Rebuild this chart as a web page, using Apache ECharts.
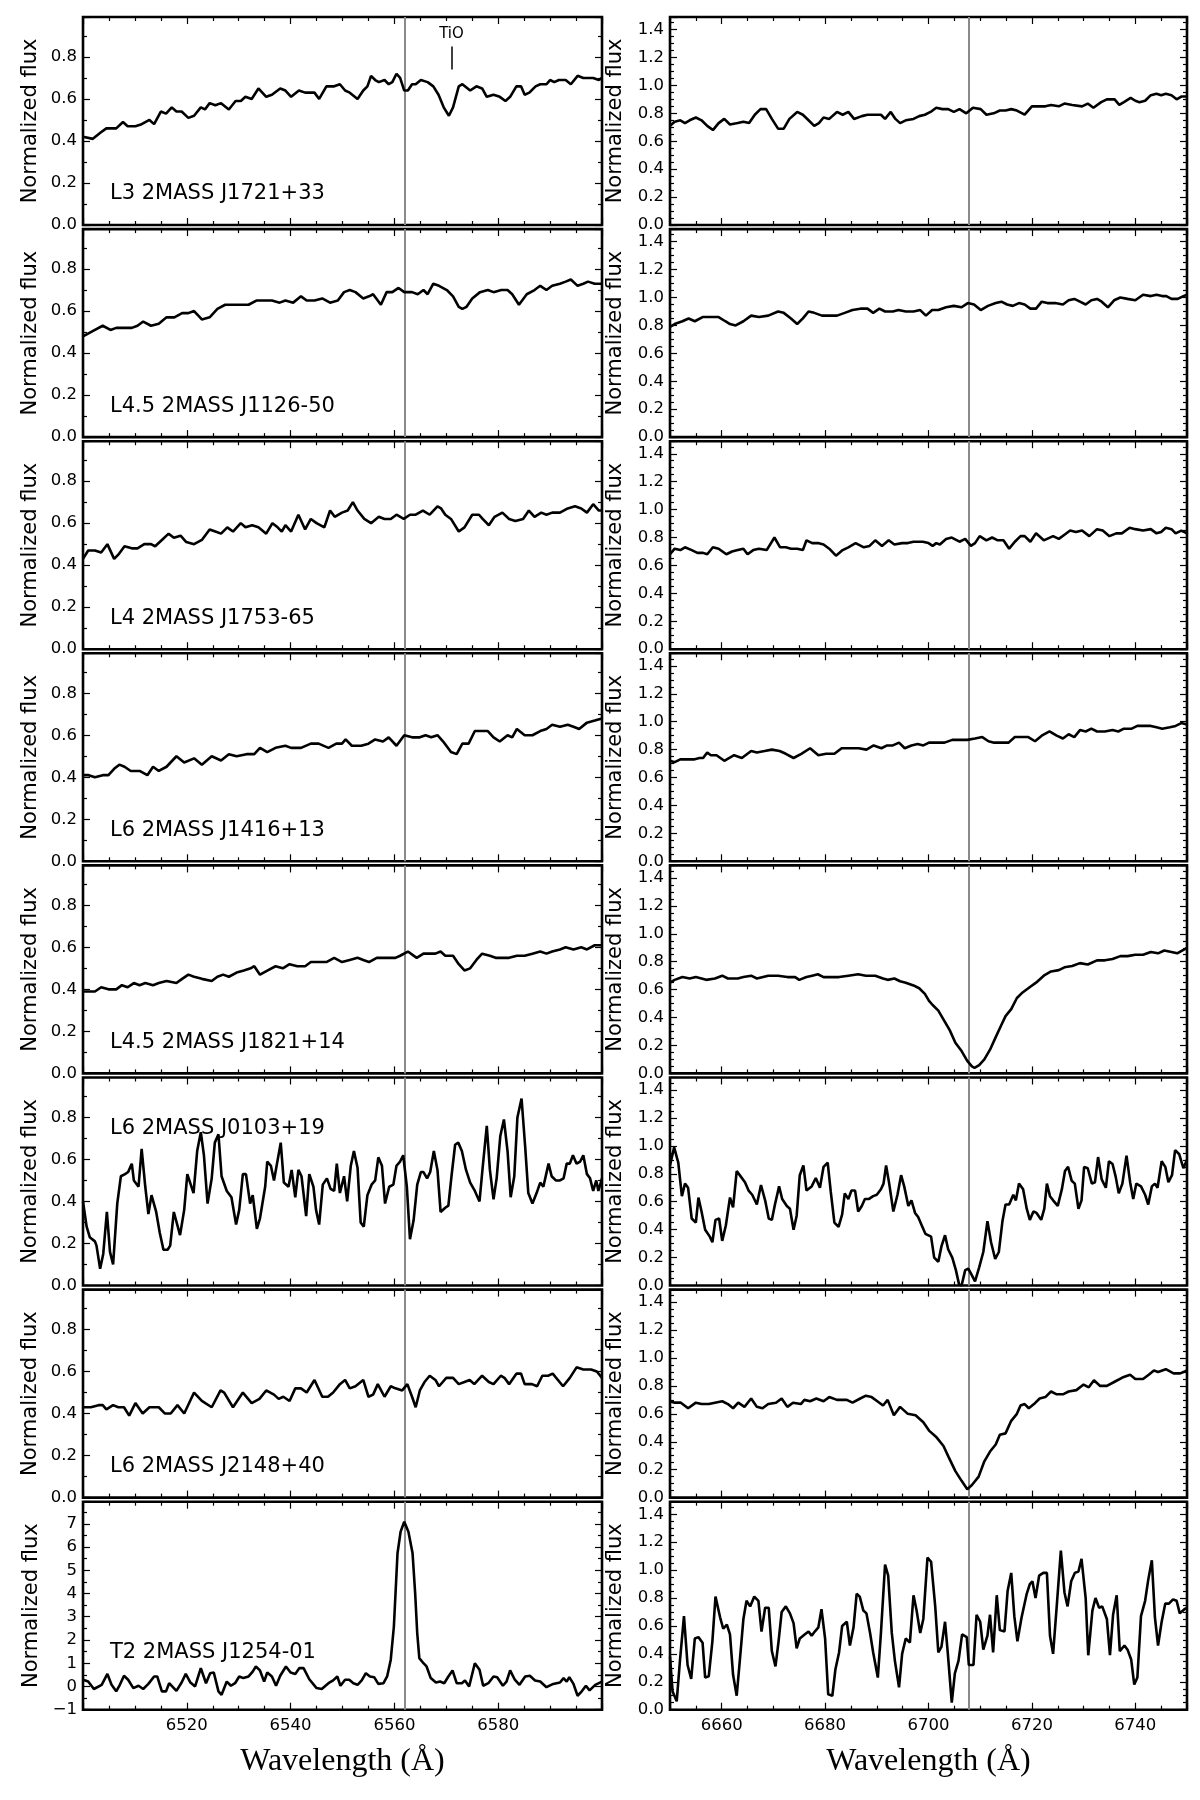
<!DOCTYPE html>
<html>
<head>
<meta charset="utf-8">
<title>Normalized spectra</title>
<script src="https://cdn.jsdelivr.net/npm/echarts@6/dist/echarts.min.js"></script>
<style>
html, body { margin: 0; padding: 0; background: #fff; }
#spectraChart { width: 1200px; height: 1800px; }
</style>
</head>
<body>
<div id="spectraChart"></div>
<script>
// [wavelength (A), normalized flux]
var specL1 = [[6500.0,0.42],[6501.9,0.41],[6503.4,0.44],[6504.5,0.46],[6506.4,0.46],[6507.7,0.49],[6508.6,0.47],[6510.1,0.47],[6511.3,0.48],[6512.8,0.50],[6513.7,0.48],[6515.0,0.54],[6516.0,0.53],[6517.1,0.56],[6518.0,0.54],[6519.0,0.54],[6520.3,0.51],[6521.4,0.52],[6522.7,0.56],[6523.5,0.55],[6524.4,0.58],[6525.5,0.57],[6526.6,0.58],[6528.1,0.55],[6529.4,0.59],[6530.4,0.59],[6531.3,0.61],[6532.5,0.60],[6533.8,0.65],[6535.3,0.61],[6536.4,0.62],[6538.0,0.65],[6539.0,0.64],[6540.1,0.61],[6541.6,0.64],[6542.8,0.63],[6544.6,0.63],[6545.5,0.60],[6546.9,0.66],[6548.4,0.66],[6549.5,0.67],[6550.5,0.64],[6551.4,0.63],[6552.9,0.60],[6554.0,0.64],[6554.8,0.66],[6555.5,0.71],[6556.3,0.69],[6557.0,0.68],[6558.1,0.69],[6558.9,0.67],[6559.6,0.68],[6560.4,0.72],[6561.1,0.70],[6561.9,0.64],[6562.6,0.64],[6563.4,0.67],[6564.1,0.67],[6565.1,0.69],[6566.4,0.68],[6567.5,0.66],[6568.5,0.62],[6569.5,0.56],[6570.5,0.52],[6571.3,0.56],[6572.4,0.66],[6573.1,0.67],[6574.6,0.64],[6575.8,0.66],[6576.9,0.65],[6577.8,0.61],[6579.1,0.62],[6580.3,0.61],[6581.4,0.59],[6582.3,0.61],[6583.5,0.66],[6584.4,0.66],[6585.1,0.62],[6586.0,0.63],[6587.2,0.66],[6588.1,0.67],[6589.3,0.67],[6590.0,0.69],[6590.8,0.68],[6591.7,0.69],[6593.0,0.69],[6594.0,0.67],[6595.3,0.71],[6596.4,0.70],[6597.5,0.70],[6598.3,0.70],[6599.4,0.69],[6600.0,0.70]];
var specL2 = [[6500.0,0.48],[6500.8,0.49],[6502.3,0.51],[6503.8,0.53],[6505.3,0.51],[6506.4,0.52],[6507.9,0.52],[6509.4,0.52],[6510.5,0.53],[6511.6,0.55],[6513.1,0.53],[6514.6,0.54],[6516.1,0.57],[6517.6,0.57],[6519.1,0.59],[6520.3,0.59],[6521.4,0.60],[6522.9,0.56],[6524.4,0.57],[6525.9,0.61],[6527.4,0.63],[6528.9,0.63],[6530.4,0.63],[6531.9,0.63],[6533.4,0.65],[6534.9,0.65],[6536.4,0.65],[6537.9,0.64],[6539.0,0.65],[6540.5,0.64],[6542.0,0.67],[6543.1,0.65],[6544.6,0.65],[6546.1,0.66],[6547.6,0.64],[6549.1,0.65],[6550.3,0.69],[6551.4,0.70],[6552.5,0.69],[6554.0,0.66],[6555.1,0.67],[6555.9,0.68],[6557.4,0.63],[6558.5,0.69],[6559.6,0.69],[6560.8,0.71],[6561.9,0.69],[6563.4,0.69],[6564.5,0.68],[6565.6,0.70],[6566.4,0.68],[6567.5,0.73],[6568.6,0.72],[6570.1,0.70],[6571.3,0.67],[6572.4,0.62],[6573.1,0.61],[6573.9,0.62],[6575.0,0.66],[6576.5,0.69],[6578.0,0.70],[6579.1,0.69],[6580.6,0.70],[6581.8,0.70],[6582.7,0.68],[6584.0,0.63],[6585.5,0.68],[6587.0,0.70],[6588.1,0.72],[6589.3,0.70],[6590.4,0.72],[6591.9,0.73],[6593.0,0.74],[6594.0,0.75],[6595.3,0.72],[6596.4,0.73],[6597.3,0.74],[6598.6,0.73],[6600.0,0.73]];
var specL3 = [[6500.0,0.43],[6501.0,0.47],[6502.3,0.47],[6503.5,0.46],[6504.7,0.50],[6506.0,0.43],[6506.8,0.45],[6508.0,0.49],[6509.4,0.48],[6510.5,0.48],[6511.8,0.50],[6513.1,0.50],[6513.9,0.49],[6515.2,0.52],[6516.5,0.55],[6517.5,0.53],[6518.8,0.54],[6519.9,0.51],[6521.4,0.50],[6522.9,0.52],[6524.4,0.57],[6525.5,0.56],[6526.6,0.55],[6527.8,0.58],[6528.9,0.56],[6530.4,0.60],[6531.3,0.58],[6532.6,0.59],[6533.8,0.58],[6535.3,0.55],[6536.5,0.60],[6537.5,0.58],[6538.3,0.56],[6539.0,0.59],[6540.1,0.56],[6541.5,0.64],[6542.8,0.57],[6543.9,0.62],[6545.0,0.60],[6546.5,0.58],[6547.6,0.66],[6548.5,0.63],[6549.9,0.65],[6551.0,0.66],[6552.0,0.70],[6552.9,0.66],[6554.2,0.62],[6555.5,0.60],[6557.0,0.63],[6558.1,0.62],[6559.3,0.62],[6560.4,0.64],[6561.8,0.62],[6563.0,0.64],[6564.1,0.64],[6565.5,0.66],[6566.8,0.64],[6568.3,0.68],[6569.0,0.67],[6569.8,0.64],[6570.9,0.62],[6572.4,0.56],[6573.5,0.58],[6575.0,0.64],[6576.3,0.64],[6577.0,0.62],[6578.2,0.59],[6579.3,0.63],[6580.8,0.65],[6582.1,0.62],[6583.3,0.61],[6584.8,0.62],[6585.9,0.66],[6587.0,0.63],[6588.3,0.65],[6589.3,0.64],[6590.4,0.65],[6591.9,0.65],[6593.4,0.67],[6594.8,0.68],[6596.0,0.67],[6597.1,0.65],[6598.3,0.69],[6599.4,0.66],[6600.0,0.66]];
var specL4 = [[6500.0,0.41],[6501.1,0.41],[6502.3,0.40],[6503.8,0.41],[6504.9,0.41],[6506.0,0.44],[6507.0,0.46],[6508.0,0.45],[6509.2,0.43],[6510.9,0.43],[6512.4,0.41],[6513.5,0.45],[6514.6,0.43],[6516.1,0.45],[6518.0,0.50],[6519.5,0.47],[6521.4,0.49],[6522.9,0.46],[6524.8,0.50],[6526.6,0.48],[6528.1,0.51],[6529.6,0.50],[6531.5,0.51],[6533.0,0.51],[6534.1,0.54],[6535.5,0.52],[6537.1,0.54],[6539.0,0.55],[6540.1,0.54],[6542.0,0.54],[6543.9,0.56],[6545.4,0.56],[6547.3,0.54],[6548.8,0.56],[6549.9,0.56],[6550.6,0.58],[6551.8,0.55],[6553.6,0.55],[6555.0,0.56],[6556.3,0.58],[6557.8,0.57],[6558.9,0.59],[6560.4,0.55],[6561.9,0.60],[6563.4,0.59],[6564.9,0.59],[6566.0,0.60],[6567.1,0.59],[6568.3,0.60],[6569.4,0.57],[6570.9,0.52],[6572.0,0.51],[6573.1,0.56],[6574.3,0.56],[6575.5,0.62],[6576.9,0.62],[6578.0,0.62],[6579.1,0.59],[6580.3,0.57],[6581.8,0.60],[6582.7,0.59],[6583.6,0.63],[6585.1,0.60],[6586.6,0.60],[6588.1,0.62],[6589.3,0.63],[6590.4,0.65],[6591.9,0.64],[6593.4,0.65],[6594.5,0.64],[6595.6,0.63],[6597.1,0.66],[6598.6,0.67],[6600.0,0.68]];
var specL5 = [[6500.0,0.39],[6502.3,0.39],[6503.5,0.41],[6504.9,0.40],[6506.4,0.40],[6507.5,0.42],[6508.6,0.41],[6509.8,0.43],[6510.9,0.42],[6512.0,0.43],[6513.5,0.42],[6514.6,0.43],[6516.1,0.44],[6518.0,0.43],[6519.1,0.45],[6520.3,0.47],[6521.4,0.46],[6522.9,0.45],[6524.8,0.44],[6525.9,0.46],[6527.0,0.47],[6528.1,0.46],[6529.6,0.48],[6531.0,0.49],[6532.3,0.50],[6533.0,0.51],[6534.1,0.47],[6535.6,0.49],[6537.1,0.51],[6538.5,0.50],[6539.8,0.52],[6541.3,0.51],[6542.8,0.51],[6543.9,0.53],[6545.4,0.53],[6546.9,0.53],[6548.4,0.55],[6549.9,0.53],[6551.4,0.54],[6552.9,0.55],[6554.0,0.54],[6555.1,0.53],[6556.6,0.55],[6558.1,0.55],[6559.3,0.55],[6560.2,0.55],[6561.1,0.56],[6562.6,0.58],[6564.3,0.55],[6565.6,0.57],[6566.8,0.57],[6567.9,0.57],[6568.9,0.58],[6569.8,0.56],[6571.3,0.56],[6572.4,0.52],[6573.5,0.49],[6574.6,0.50],[6575.8,0.54],[6576.9,0.57],[6578.4,0.56],[6579.5,0.55],[6580.6,0.55],[6582.1,0.55],[6583.6,0.56],[6585.1,0.56],[6586.6,0.57],[6588.1,0.58],[6589.3,0.57],[6590.4,0.58],[6591.9,0.59],[6593.0,0.60],[6594.5,0.59],[6596.0,0.60],[6597.1,0.59],[6598.6,0.61],[6600.0,0.61]];
var specL6 = [[6500.0,0.40],[6500.7,0.28],[6501.3,0.23],[6502.3,0.21],[6502.6,0.19],[6503.3,0.08],[6503.9,0.15],[6504.6,0.35],[6505.2,0.16],[6505.8,0.10],[6506.6,0.39],[6507.3,0.52],[6508.1,0.53],[6508.7,0.54],[6509.4,0.58],[6509.8,0.50],[6510.7,0.47],[6511.3,0.65],[6512.0,0.47],[6512.6,0.34],[6513.2,0.43],[6514.1,0.35],[6514.8,0.25],[6515.5,0.17],[6516.3,0.17],[6516.8,0.19],[6517.5,0.35],[6518.7,0.24],[6519.5,0.36],[6520.1,0.53],[6521.3,0.44],[6522.0,0.64],[6522.7,0.73],[6523.3,0.62],[6524.0,0.39],[6524.8,0.51],[6525.4,0.68],[6526.1,0.72],[6526.7,0.52],[6527.7,0.45],[6528.6,0.42],[6529.5,0.29],[6530.1,0.36],[6530.8,0.53],[6531.4,0.53],[6532.2,0.39],[6532.7,0.43],[6533.5,0.27],[6534.1,0.32],[6535.1,0.47],[6535.5,0.59],[6536.2,0.57],[6536.8,0.50],[6538.1,0.68],[6538.7,0.49],[6539.6,0.47],[6540.2,0.55],[6540.9,0.42],[6541.5,0.55],[6542.1,0.52],[6543.0,0.33],[6543.6,0.53],[6544.4,0.47],[6544.9,0.36],[6545.5,0.29],[6546.2,0.48],[6547.0,0.51],[6547.7,0.46],[6548.4,0.45],[6548.9,0.58],[6549.5,0.44],[6550.3,0.52],[6550.9,0.40],[6551.6,0.57],[6552.2,0.64],[6552.9,0.56],[6553.5,0.30],[6554.1,0.28],[6554.8,0.43],[6555.6,0.48],[6556.3,0.50],[6556.9,0.61],[6557.6,0.57],[6558.2,0.39],[6559.0,0.47],[6559.8,0.48],[6560.4,0.57],[6561.1,0.59],[6561.7,0.62],[6562.4,0.47],[6563.0,0.22],[6563.7,0.31],[6564.4,0.48],[6565.1,0.54],[6565.6,0.54],[6566.3,0.51],[6566.9,0.54],[6567.6,0.64],[6568.3,0.55],[6568.9,0.35],[6569.8,0.37],[6570.4,0.38],[6571.0,0.52],[6571.7,0.67],[6572.3,0.68],[6573.0,0.64],[6573.8,0.55],[6574.6,0.49],[6575.5,0.45],[6576.4,0.40],[6577.0,0.56],[6577.8,0.76],[6578.4,0.55],[6579.1,0.41],[6579.7,0.51],[6580.4,0.71],[6581.1,0.79],[6581.8,0.64],[6582.4,0.42],[6583.1,0.52],[6583.7,0.80],[6584.5,0.89],[6585.2,0.66],[6585.8,0.44],[6586.6,0.39],[6587.4,0.44],[6588.1,0.49],[6588.7,0.47],[6589.7,0.58],[6590.3,0.52],[6591.1,0.50],[6591.9,0.50],[6592.6,0.51],[6593.2,0.58],[6593.8,0.58],[6594.4,0.62],[6595.1,0.58],[6595.8,0.59],[6596.4,0.62],[6597.1,0.53],[6597.7,0.51],[6598.3,0.45],[6598.9,0.50],[6599.3,0.45],[6600.0,0.51]];
var specL7 = [[6500.0,0.43],[6501.5,0.43],[6503.0,0.44],[6503.8,0.44],[6504.5,0.42],[6505.8,0.44],[6506.8,0.43],[6507.9,0.43],[6508.9,0.39],[6510.1,0.45],[6511.5,0.40],[6512.8,0.43],[6514.6,0.43],[6515.8,0.40],[6516.9,0.40],[6518.2,0.44],[6519.5,0.40],[6521.4,0.50],[6522.9,0.46],[6524.8,0.43],[6526.5,0.51],[6527.2,0.50],[6528.9,0.43],[6530.8,0.50],[6532.5,0.45],[6534.0,0.47],[6535.3,0.51],[6536.8,0.49],[6537.7,0.47],[6538.6,0.48],[6539.8,0.46],[6540.9,0.52],[6542.0,0.52],[6543.1,0.50],[6544.6,0.56],[6546.1,0.48],[6547.2,0.48],[6548.2,0.50],[6549.5,0.54],[6550.5,0.56],[6551.4,0.52],[6552.5,0.53],[6554.0,0.56],[6555.0,0.48],[6555.9,0.49],[6556.8,0.54],[6558.1,0.48],[6559.3,0.53],[6560.2,0.52],[6561.5,0.51],[6562.5,0.54],[6563.4,0.48],[6564.1,0.43],[6564.9,0.51],[6565.8,0.55],[6566.8,0.58],[6567.9,0.56],[6568.6,0.53],[6570.0,0.57],[6571.3,0.57],[6572.4,0.54],[6573.5,0.55],[6574.5,0.56],[6575.4,0.54],[6576.9,0.58],[6578.2,0.55],[6579.1,0.54],[6580.5,0.58],[6581.2,0.57],[6582.1,0.54],[6583.5,0.59],[6584.4,0.59],[6585.1,0.54],[6586.5,0.54],[6587.5,0.53],[6588.5,0.58],[6589.6,0.58],[6590.5,0.59],[6592.5,0.53],[6593.8,0.57],[6595.1,0.62],[6596.4,0.61],[6597.9,0.61],[6599.0,0.60],[6600.0,0.57]];
var specL8 = [[6500.0,0.29],[6501.0,0.21],[6502.1,-0.11],[6503.6,0.07],[6504.7,0.54],[6505.5,0.07],[6506.4,-0.21],[6507.1,0.07],[6507.9,0.46],[6508.7,0.29],[6509.7,-0.07],[6510.7,0.03],[6511.6,-0.11],[6512.6,0.11],[6513.7,0.43],[6514.3,0.43],[6515.2,-0.21],[6516.0,-0.21],[6516.6,0.14],[6518.0,-0.19],[6519.0,0.17],[6519.8,0.54],[6520.7,0.17],[6521.6,0.0],[6522.7,0.79],[6523.7,0.14],[6524.5,0.57],[6525.2,0.60],[6526.1,-0.21],[6526.7,-0.36],[6527.7,0.21],[6528.5,0.03],[6529.3,0.14],[6530.1,0.43],[6530.9,0.36],[6531.9,0.43],[6532.7,0.64],[6533.3,0.86],[6534.1,0.69],[6534.9,0.21],[6535.5,0.60],[6536.4,0.43],[6537.2,0.03],[6538.0,0.46],[6539.1,0.86],[6540.0,0.60],[6540.9,0.54],[6541.7,0.79],[6542.5,0.79],[6543.6,0.31],[6545.0,-0.07],[6546.0,-0.11],[6547.3,0.14],[6548.2,0.26],[6549.0,0.43],[6549.6,0.03],[6550.5,0.29],[6551.3,0.29],[6552.1,0.14],[6552.9,0.07],[6553.7,0.26],[6554.5,0.57],[6555.3,0.43],[6556.1,0.40],[6556.9,0.11],[6557.9,0.14],[6558.6,0.43],[6559.3,1.15],[6559.9,2.58],[6560.6,5.73],[6561.2,6.66],[6561.9,7.09],[6562.7,6.66],[6563.5,5.73],[6564.0,4.01],[6564.4,2.29],[6564.8,1.22],[6565.6,1.00],[6566.2,0.86],[6567.0,0.36],[6568.0,0.17],[6568.8,0.21],[6569.6,0.14],[6570.4,0.43],[6571.2,0.69],[6572.0,0.14],[6573.0,0.14],[6573.6,0.26],[6574.4,0.0],[6575.5,1.00],[6576.4,0.72],[6577.1,0.03],[6578.1,0.14],[6579.1,0.43],[6579.8,0.40],[6580.9,0.03],[6581.6,0.21],[6582.3,0.69],[6583.2,0.29],[6584.1,0.07],[6585.2,0.43],[6586.1,0.46],[6587.1,0.26],[6588.1,0.21],[6589.3,-0.03],[6590.6,0.11],[6591.9,0.17],[6592.6,0.36],[6593.2,0.21],[6593.7,0.40],[6594.5,0.11],[6595.3,-0.40],[6596.1,-0.21],[6596.9,0.03],[6597.6,-0.17],[6598.7,0.07],[6600.0,0.21]];

var specR1 = [[6650.0,0.71],[6650.9,0.74],[6652.0,0.75],[6652.9,0.73],[6653.8,0.75],[6655.0,0.77],[6656.1,0.75],[6657.2,0.71],[6658.3,0.68],[6659.4,0.73],[6660.5,0.76],[6661.6,0.72],[6663.1,0.73],[6664.2,0.74],[6665.3,0.73],[6666.4,0.79],[6667.5,0.83],[6668.6,0.83],[6669.7,0.76],[6670.9,0.69],[6672.0,0.69],[6673.1,0.76],[6674.6,0.81],[6675.7,0.79],[6676.8,0.75],[6677.9,0.71],[6678.8,0.73],[6679.7,0.77],[6680.8,0.76],[6682.3,0.81],[6683.4,0.79],[6684.5,0.81],[6685.6,0.76],[6687.1,0.78],[6688.2,0.79],[6689.7,0.79],[6690.8,0.79],[6691.6,0.76],[6692.7,0.81],[6693.6,0.76],[6694.5,0.73],[6695.6,0.75],[6697.1,0.76],[6698.2,0.78],[6699.3,0.79],[6700.4,0.81],[6701.5,0.84],[6702.7,0.83],[6703.8,0.83],[6704.9,0.81],[6706.0,0.83],[6707.3,0.80],[6708.6,0.84],[6710.1,0.83],[6711.2,0.79],[6712.6,0.80],[6713.8,0.82],[6714.9,0.82],[6716.0,0.83],[6717.1,0.82],[6718.6,0.79],[6720.0,0.85],[6721.5,0.85],[6722.6,0.85],[6723.7,0.86],[6725.2,0.85],[6726.3,0.87],[6727.8,0.86],[6729.7,0.85],[6730.8,0.87],[6731.9,0.84],[6733.4,0.88],[6734.5,0.90],[6736.0,0.90],[6736.9,0.86],[6737.8,0.88],[6739.1,0.91],[6740.0,0.89],[6740.8,0.88],[6741.9,0.89],[6743.0,0.93],[6744.1,0.94],[6745.0,0.93],[6745.9,0.94],[6747.0,0.93],[6748.0,0.90],[6748.9,0.92],[6750.0,0.92]];
var specR2 = [[6650.0,0.79],[6650.9,0.81],[6652.4,0.83],[6653.6,0.85],[6654.8,0.83],[6656.3,0.86],[6657.9,0.86],[6659.4,0.86],[6660.7,0.83],[6661.6,0.81],[6662.7,0.80],[6664.2,0.83],[6665.7,0.87],[6667.2,0.86],[6669.0,0.87],[6670.9,0.90],[6672.0,0.89],[6673.4,0.85],[6674.6,0.81],[6675.7,0.85],[6676.8,0.90],[6677.9,0.89],[6679.4,0.87],[6680.8,0.87],[6682.3,0.87],[6683.8,0.89],[6685.3,0.91],[6686.8,0.92],[6688.2,0.92],[6689.3,0.89],[6690.5,0.92],[6691.6,0.90],[6693.1,0.90],[6694.2,0.91],[6695.6,0.90],[6697.1,0.90],[6698.4,0.91],[6699.5,0.87],[6700.7,0.91],[6701.9,0.91],[6703.4,0.93],[6704.9,0.94],[6706.4,0.93],[6707.6,0.96],[6708.8,0.95],[6710.1,0.91],[6711.5,0.94],[6713.0,0.96],[6714.1,0.97],[6715.2,0.95],[6716.3,0.94],[6717.5,0.96],[6718.6,0.95],[6719.7,0.92],[6720.8,0.92],[6721.9,0.97],[6723.0,0.96],[6724.5,0.96],[6726.0,0.95],[6727.1,0.98],[6728.2,0.99],[6729.3,0.97],[6730.4,0.95],[6731.5,0.98],[6732.6,0.99],[6733.5,0.97],[6734.7,0.93],[6735.9,0.98],[6737.1,1.00],[6738.5,0.99],[6740.0,0.98],[6741.5,1.02],[6743.0,1.01],[6744.1,1.02],[6745.2,1.01],[6746.0,1.01],[6747.0,0.99],[6748.2,0.99],[6749.3,1.01],[6750.0,1.02]];
var specR3 = [[6650.0,0.68],[6650.9,0.72],[6652.0,0.71],[6652.9,0.73],[6654.2,0.71],[6655.3,0.69],[6656.4,0.69],[6657.2,0.68],[6658.3,0.73],[6659.4,0.72],[6660.9,0.68],[6662.0,0.70],[6663.1,0.71],[6664.2,0.72],[6665.0,0.68],[6666.1,0.71],[6667.2,0.72],[6668.7,0.71],[6670.2,0.80],[6671.3,0.73],[6672.4,0.73],[6673.4,0.72],[6674.6,0.72],[6675.7,0.71],[6676.4,0.78],[6677.5,0.76],[6678.6,0.76],[6679.7,0.75],[6680.8,0.72],[6682.1,0.67],[6683.4,0.71],[6684.5,0.73],[6685.9,0.76],[6687.5,0.73],[6688.6,0.74],[6689.7,0.78],[6691.0,0.74],[6692.3,0.78],[6693.4,0.75],[6694.9,0.76],[6696.0,0.76],[6697.1,0.77],[6698.9,0.77],[6700.0,0.76],[6700.8,0.74],[6701.5,0.76],[6702.2,0.75],[6703.4,0.79],[6704.5,0.80],[6706.0,0.77],[6707.1,0.79],[6708.2,0.74],[6709.0,0.76],[6709.9,0.81],[6711.2,0.78],[6712.3,0.80],[6713.4,0.78],[6714.5,0.78],[6715.6,0.72],[6716.7,0.77],[6717.8,0.81],[6718.6,0.81],[6719.7,0.77],[6720.8,0.83],[6722.3,0.78],[6724.1,0.81],[6725.2,0.79],[6726.3,0.82],[6727.4,0.85],[6728.5,0.84],[6729.7,0.85],[6731.1,0.81],[6732.6,0.86],[6733.7,0.85],[6735.0,0.81],[6736.3,0.83],[6737.4,0.83],[6738.9,0.87],[6740.0,0.86],[6741.5,0.85],[6743.0,0.86],[6744.1,0.83],[6745.0,0.84],[6745.9,0.87],[6747.0,0.86],[6747.8,0.83],[6748.9,0.85],[6750.0,0.83]];
var specR4 = [[6650.0,0.72],[6650.9,0.71],[6652.0,0.73],[6653.5,0.73],[6654.6,0.73],[6655.7,0.74],[6656.4,0.74],[6657.2,0.78],[6657.9,0.76],[6659.0,0.76],[6660.5,0.72],[6662.4,0.76],[6663.9,0.74],[6665.7,0.79],[6666.8,0.78],[6668.3,0.79],[6669.7,0.80],[6671.2,0.79],[6672.4,0.77],[6673.9,0.74],[6675.4,0.77],[6677.1,0.81],[6678.7,0.76],[6680.2,0.77],[6681.8,0.77],[6683.2,0.81],[6685.0,0.81],[6686.5,0.81],[6688.0,0.80],[6689.4,0.83],[6690.9,0.81],[6692.0,0.83],[6693.1,0.83],[6694.3,0.85],[6695.4,0.81],[6696.7,0.83],[6697.9,0.84],[6699.0,0.83],[6700.1,0.85],[6701.6,0.85],[6703.1,0.85],[6704.6,0.87],[6706.0,0.87],[6707.5,0.87],[6709.0,0.88],[6710.4,0.89],[6711.6,0.86],[6712.7,0.85],[6714.1,0.85],[6715.5,0.85],[6716.7,0.89],[6718.2,0.89],[6719.3,0.89],[6720.6,0.86],[6721.9,0.90],[6723.4,0.93],[6724.8,0.90],[6726.0,0.88],[6727.1,0.91],[6728.2,0.89],[6729.3,0.94],[6730.4,0.93],[6731.5,0.95],[6732.6,0.93],[6734.1,0.93],[6735.6,0.94],[6736.7,0.93],[6737.8,0.95],[6739.3,0.95],[6740.4,0.97],[6741.5,0.97],[6743.0,0.97],[6744.1,0.96],[6745.2,0.95],[6746.7,0.96],[6747.8,0.97],[6748.9,0.99],[6750.0,0.98]];
var specR5 = [[6650.0,0.65],[6650.9,0.67],[6652.4,0.69],[6653.8,0.68],[6655.0,0.69],[6656.1,0.68],[6657.0,0.67],[6658.7,0.68],[6660.1,0.70],[6661.2,0.68],[6663.1,0.68],[6664.2,0.69],[6665.7,0.70],[6666.8,0.68],[6669.0,0.70],[6670.9,0.70],[6672.7,0.69],[6674.2,0.69],[6675.0,0.67],[6676.4,0.69],[6677.5,0.70],[6678.6,0.71],[6679.7,0.69],[6681.2,0.69],[6682.7,0.69],[6684.5,0.70],[6686.4,0.71],[6687.9,0.70],[6689.7,0.70],[6691.2,0.68],[6692.1,0.67],[6693.4,0.68],[6694.5,0.66],[6695.6,0.65],[6697.1,0.63],[6698.2,0.61],[6699.3,0.57],[6700.1,0.52],[6700.8,0.49],[6701.9,0.45],[6703.0,0.38],[6704.1,0.31],[6705.2,0.22],[6706.4,0.16],[6707.5,0.09],[6708.4,0.05],[6708.9,0.04],[6709.8,0.06],[6710.8,0.10],[6711.9,0.17],[6713.0,0.26],[6714.0,0.34],[6714.9,0.41],[6716.0,0.46],[6717.1,0.54],[6718.2,0.58],[6719.3,0.61],[6720.8,0.65],[6722.3,0.70],[6723.7,0.73],[6725.2,0.74],[6726.3,0.76],[6727.8,0.77],[6729.3,0.79],[6730.8,0.78],[6732.6,0.81],[6734.1,0.81],[6735.6,0.82],[6737.1,0.84],[6738.5,0.84],[6740.0,0.85],[6741.5,0.85],[6743.0,0.87],[6744.4,0.86],[6745.6,0.88],[6747.0,0.87],[6748.1,0.86],[6750.0,0.90]];
var specR6 = [[6650.0,0.86],[6650.8,0.99],[6651.6,0.88],[6652.3,0.64],[6652.9,0.73],[6653.5,0.70],[6654.2,0.48],[6655.0,0.45],[6655.5,0.63],[6656.1,0.53],[6656.8,0.40],[6657.7,0.35],[6658.2,0.31],[6658.8,0.47],[6659.5,0.48],[6660.1,0.32],[6660.8,0.43],[6661.6,0.63],[6662.2,0.56],[6662.9,0.82],[6663.7,0.78],[6664.5,0.74],[6665.2,0.68],[6665.9,0.65],[6666.8,0.58],[6667.6,0.72],[6668.4,0.61],[6669.1,0.48],[6669.7,0.47],[6670.3,0.58],[6671.1,0.71],[6671.7,0.62],[6672.6,0.57],[6673.2,0.55],[6673.9,0.40],[6674.5,0.50],[6675.1,0.79],[6675.8,0.86],[6676.4,0.68],[6677.4,0.71],[6678.2,0.77],[6679.0,0.70],[6679.7,0.85],[6680.5,0.88],[6681.1,0.67],[6681.8,0.45],[6682.6,0.42],[6683.3,0.51],[6683.8,0.66],[6684.5,0.62],[6685.1,0.68],[6685.8,0.68],[6686.4,0.53],[6687.1,0.57],[6687.7,0.62],[6688.5,0.62],[6689.3,0.64],[6690.0,0.65],[6690.8,0.69],[6691.3,0.73],[6691.8,0.86],[6692.4,0.73],[6693.2,0.53],[6694.0,0.65],[6694.7,0.79],[6695.3,0.71],[6696.1,0.57],[6696.7,0.61],[6697.4,0.52],[6698.0,0.49],[6698.7,0.43],[6699.4,0.37],[6700.5,0.35],[6701.1,0.20],[6701.9,0.17],[6702.5,0.28],[6703.2,0.36],[6703.8,0.26],[6704.6,0.20],[6705.3,0.11],[6705.9,0.01],[6706.4,0.0],[6707.1,0.11],[6707.7,0.12],[6708.3,0.08],[6709.0,0.03],[6709.8,0.13],[6710.6,0.24],[6711.4,0.46],[6712.1,0.31],[6712.9,0.19],[6713.6,0.24],[6714.3,0.46],[6714.9,0.58],[6715.6,0.58],[6716.4,0.65],[6716.9,0.61],[6717.5,0.73],[6718.3,0.69],[6719.0,0.55],[6719.6,0.47],[6720.3,0.53],[6720.9,0.52],[6721.8,0.47],[6722.4,0.55],[6722.9,0.73],[6723.5,0.64],[6724.1,0.61],[6725.0,0.57],[6725.8,0.69],[6726.4,0.82],[6727.0,0.85],[6727.7,0.75],[6728.3,0.73],[6729.0,0.55],[6729.6,0.61],[6730.1,0.85],[6730.8,0.84],[6731.6,0.73],[6732.2,0.74],[6732.8,0.92],[6733.5,0.76],[6734.3,0.70],[6734.9,0.89],[6735.6,0.87],[6736.2,0.78],[6736.8,0.66],[6737.5,0.73],[6738.3,0.93],[6739.0,0.74],[6739.6,0.62],[6740.2,0.73],[6741.1,0.71],[6741.9,0.65],[6742.5,0.58],[6743.2,0.71],[6743.8,0.73],[6744.3,0.70],[6745.1,0.89],[6745.8,0.85],[6746.4,0.74],[6747.1,0.79],[6747.7,0.97],[6748.5,0.94],[6749.3,0.84],[6750.0,0.90]];
var specR7 = [[6650.0,0.69],[6650.9,0.68],[6652.1,0.68],[6653.5,0.64],[6655.0,0.68],[6656.1,0.67],[6657.5,0.67],[6658.7,0.68],[6660.1,0.69],[6661.2,0.67],[6662.2,0.64],[6663.2,0.68],[6664.4,0.65],[6665.7,0.71],[6666.8,0.65],[6667.9,0.64],[6669.0,0.67],[6670.5,0.68],[6671.6,0.71],[6672.7,0.65],[6673.8,0.68],[6675.3,0.67],[6676.0,0.70],[6677.1,0.69],[6678.3,0.71],[6679.7,0.69],[6680.8,0.72],[6682.3,0.70],[6684.2,0.70],[6685.3,0.68],[6686.8,0.71],[6687.9,0.73],[6689.0,0.72],[6690.1,0.69],[6691.2,0.66],[6692.1,0.70],[6693.3,0.59],[6694.5,0.65],[6696.0,0.60],[6697.5,0.59],[6699.0,0.54],[6700.1,0.48],[6701.6,0.43],[6702.9,0.37],[6703.9,0.29],[6705.2,0.19],[6706.4,0.12],[6707.5,0.06],[6708.4,0.09],[6709.7,0.15],[6710.8,0.26],[6711.9,0.33],[6713.0,0.38],[6713.8,0.45],[6714.9,0.46],[6716.0,0.55],[6717.1,0.60],[6717.8,0.66],[6718.6,0.67],[6719.4,0.64],[6720.4,0.67],[6721.5,0.71],[6722.6,0.72],[6723.7,0.76],[6724.8,0.74],[6726.0,0.74],[6727.1,0.76],[6728.6,0.77],[6730.0,0.81],[6731.0,0.79],[6732.0,0.84],[6733.2,0.80],[6734.5,0.80],[6736.0,0.83],[6737.5,0.86],[6739.0,0.88],[6740.0,0.85],[6741.5,0.85],[6742.6,0.88],[6743.6,0.91],[6744.4,0.90],[6745.9,0.92],[6747.4,0.89],[6748.7,0.89],[6750.0,0.91]];
var specR8 = [[6650.0,0.38],[6650.5,0.13],[6651.3,0.06],[6651.9,0.34],[6652.7,0.67],[6653.4,0.32],[6654.1,0.22],[6654.8,0.51],[6655.5,0.52],[6656.3,0.48],[6656.8,0.23],[6657.5,0.24],[6658.2,0.49],[6658.8,0.81],[6659.7,0.66],[6660.3,0.58],[6661.0,0.61],[6661.6,0.54],[6662.2,0.25],[6662.9,0.10],[6663.5,0.35],[6664.2,0.65],[6664.8,0.78],[6665.5,0.74],[6666.3,0.81],[6667.1,0.78],[6667.7,0.56],[6668.4,0.73],[6669.1,0.73],[6669.7,0.42],[6670.4,0.31],[6671.0,0.49],[6671.6,0.70],[6672.4,0.74],[6673.2,0.69],[6673.9,0.62],[6674.5,0.44],[6675.1,0.51],[6676.1,0.54],[6676.8,0.56],[6677.4,0.53],[6678.0,0.56],[6678.7,0.59],[6679.3,0.72],[6680.0,0.51],[6680.6,0.11],[6681.4,0.10],[6682.0,0.29],[6682.7,0.41],[6683.3,0.60],[6684.2,0.63],[6684.8,0.46],[6685.5,0.59],[6686.1,0.83],[6686.7,0.81],[6687.4,0.71],[6688.0,0.69],[6688.7,0.55],[6689.3,0.41],[6690.2,0.23],[6690.8,0.55],[6691.6,1.04],[6692.2,0.96],[6692.9,0.55],[6693.5,0.35],[6694.3,0.16],[6694.9,0.40],[6695.6,0.51],[6696.4,0.48],[6697.1,0.82],[6697.7,0.71],[6698.4,0.55],[6699.0,0.65],[6699.8,1.09],[6700.5,1.06],[6701.3,0.74],[6701.9,0.41],[6702.5,0.45],[6703.2,0.63],[6703.7,0.42],[6704.5,0.05],[6705.1,0.26],[6705.8,0.35],[6706.5,0.54],[6707.4,0.52],[6707.8,0.32],[6708.7,0.32],[6709.3,0.68],[6710.0,0.63],[6710.6,0.43],[6711.4,0.53],[6711.9,0.68],[6712.5,0.41],[6713.2,0.82],[6713.8,0.57],[6714.7,0.56],[6715.3,0.85],[6716.0,0.98],[6716.6,0.67],[6717.2,0.49],[6718.0,0.66],[6719.0,0.83],[6719.6,0.90],[6720.1,0.92],[6720.7,0.80],[6721.4,0.96],[6722.2,0.98],[6722.9,0.98],[6723.5,0.53],[6724.1,0.40],[6724.8,0.74],[6725.6,1.14],[6726.3,0.84],[6726.9,0.74],[6727.6,0.92],[6728.3,0.98],[6729.0,0.99],[6729.6,1.08],[6730.4,0.80],[6730.9,0.39],[6731.7,0.71],[6732.3,0.80],[6733.0,0.73],[6733.6,0.74],[6734.5,0.65],[6735.1,0.39],[6735.7,0.68],[6736.4,0.82],[6737.0,0.42],[6737.9,0.46],[6738.5,0.43],[6739.2,0.36],[6739.8,0.18],[6740.4,0.23],[6741.1,0.67],[6741.9,0.78],[6742.5,0.93],[6743.2,1.07],[6743.8,0.66],[6744.4,0.46],[6745.1,0.63],[6745.8,0.76],[6746.5,0.76],[6747.3,0.79],[6748.0,0.78],[6748.6,0.69],[6749.5,0.72],[6750.0,0.73]];

var objectNames = ['L3 2MASS J1721+33', 'L4.5 2MASS J1126-50', 'L4 2MASS J1753-65', 'L6 2MASS J1416+13',
                   'L4.5 2MASS J1821+14', 'L6 2MASS J0103+19', 'L6 2MASS J2148+40', 'T2 2MASS J1254-01'];
var waveTicksLeft = [6520, 6540, 6560, 6580];
var waveTicksRight = [6660, 6680, 6700, 6720, 6740];
var halphaLine = 6562.0;
var lithiumLine = 6707.8;
var tioMarker = [6571, 0.74, 0.85];

var FONT = 'DejaVu Sans';
var GRID_LEFT = [83, 670], GRID_WIDTH = [519, 517];
var GRID_TOP = 17, ROW_STEP = 212.1, GRID_HEIGHT = 208;

window.onload = function () {
    drawSpectra();
};

function waveLabel(ticks) {
    return function (v) {
        var r = Math.round(v);
        return (Math.abs(v - r) < 1e-6 && ticks.indexOf(r) >= 0) ? String(r) : '';
    };
}

function fluxLabel(step) {
    return function (v) {
        var k = v / step;
        if (Math.abs(k - Math.round(k)) > 1e-6) return '';
        if (step < 1) return v.toFixed(1);
        return v < 0 ? '\u2212' + Math.abs(v) : String(v);
    };
}

function makeXAxis(g, col, pos, showLabels) {
    var axis = {
        type: 'value', gridIndex: g, position: pos,
        min: col === 0 ? 6500 : 6650, max: col === 0 ? 6600 : 6750,
        axisLine: { show: false, onZero: false }, splitLine: { show: false },
        axisTick: { show: true, inside: true, length: 7, lineStyle: { color: '#000', width: 1.2 } },
        minorTick: { show: true, splitNumber: 4, length: 4, lineStyle: { color: '#000', width: 1.2 } },
        axisLabel: { show: showLabels, margin: 8, color: '#000', fontSize: 16.5, fontFamily: FONT,
                     formatter: waveLabel(col === 0 ? waveTicksLeft : waveTicksRight) }
    };
    // the right column starts at 6650, so let echarts place the 20 A ticks itself
    if (col === 0) axis.interval = 20; else axis.splitNumber = 5;
    if (showLabels) {
        axis.name = 'Wavelength (\u00c5)';
        axis.nameLocation = 'middle';
        axis.nameGap = 36;
        axis.nameTextStyle = { fontFamily: 'Liberation Serif', fontSize: 32, color: '#000' };
    }
    return axis;
}

function makeYAxis(g, col, row, pos) {
    var range, step;
    if (col === 1) { range = [0, 1.49]; step = 0.2; }
    else if (row === 7) { range = [-1, 7.95]; step = 1; }
    else { range = [0, 0.99]; step = 0.2; }
    var isLeft = pos === 'left';
    var axis = {
        type: 'value', gridIndex: g, position: pos,
        min: range[0], max: range[1], interval: step,
        axisLine: { show: false, onZero: false }, splitLine: { show: false },
        axisTick: { show: true, inside: true, length: 7, lineStyle: { color: '#000', width: 1.2 } },
        minorTick: { show: true, splitNumber: col === 1 ? 4 : 2, length: 4, lineStyle: { color: '#000', width: 1.2 } },
        axisLabel: { show: isLeft, margin: 6, color: '#000', fontSize: 16.5, fontFamily: FONT, formatter: fluxLabel(step) }
    };
    if (isLeft) {
        axis.name = 'Normalized flux';
        axis.nameLocation = 'middle';
        axis.nameRotate = 90;
        axis.nameGap = col === 1 ? 44 : (row === 7 ? 41 : 42);
        axis.nameTextStyle = { fontFamily: FONT, fontSize: 21, color: '#000' };
    }
    return axis;
}

function drawSpectra() {
    var chart = echarts.init(document.getElementById('spectraChart'));
    var spectra = [
        [specL1, specR1], [specL2, specR2], [specL3, specR3], [specL4, specR4],
        [specL5, specR5], [specL6, specR6], [specL7, specR7], [specL8, specR8]
    ];
    var grid = [], xAxis = [], yAxis = [], series = [], graphic = [];

    for (var row = 0; row < 8; row++) {
        var top = GRID_TOP + row * ROW_STEP;
        for (var col = 0; col < 2; col++) {
            var g = row * 2 + col;
            grid.push({
                left: GRID_LEFT[col], top: top, width: GRID_WIDTH[col], height: GRID_HEIGHT,
                show: true, borderColor: '#000', borderWidth: 2.6, backgroundColor: 'rgba(0,0,0,0)'
            });
            xAxis.push(makeXAxis(g, col, 'bottom', row === 7));
            xAxis.push(makeXAxis(g, col, 'top', false));
            yAxis.push(makeYAxis(g, col, row, 'left'));
            yAxis.push(makeYAxis(g, col, row, 'right'));

            var marks = [{ xAxis: col === 0 ? halphaLine : lithiumLine }];
            series.push({
                type: 'line', xAxisIndex: 2 * g, yAxisIndex: 2 * g,
                data: spectra[row][col], showSymbol: false, symbol: 'none', silent: true, z: 3,
                lineStyle: { color: '#000', width: 2.6 },
                markLine: {
                    silent: true, z: 1, symbol: ['none', 'none'], animation: false,
                    label: { show: false },
                    lineStyle: { color: '#8a8a8a', width: 2, type: 'solid' },
                    data: marks
                }
            });
        }

        // object name inside the left panel
        var labelY = top + GRID_HEIGHT - 31;
        if (row === 5) labelY = top + 51;
        if (row === 7) labelY = top + GRID_HEIGHT - 57;
        graphic.push({
            type: 'text', x: GRID_LEFT[0] + 27, y: labelY, silent: true,
            style: { text: objectNames[row], fontSize: 21, fontFamily: FONT, fill: '#000',
                     align: 'left', verticalAlign: 'middle', textAlign: 'left', textVerticalAlign: 'middle' }
        });
    }

    // TiO band marker in the first panel
    series.push({
        type: 'line', xAxisIndex: 0, yAxisIndex: 0, data: [], silent: true,
        markLine: {
            silent: true, symbol: ['none', 'none'], animation: false,
            lineStyle: { color: '#000', width: 1.5, type: 'solid' },
            label: { show: true, position: 'end', formatter: 'TiO', distance: 5,
                     color: '#000', fontSize: 15, fontFamily: FONT },
            data: [[{ coord: [tioMarker[0], tioMarker[1]] }, { coord: [tioMarker[0], tioMarker[2]] }]]
        }
    });

    chart.setOption({
        animation: false,
        backgroundColor: '#fff',
        textStyle: { fontFamily: FONT },
        grid: grid,
        xAxis: xAxis,
        yAxis: yAxis,
        series: series,
        graphic: graphic
    });
}
</script>
</body>
</html>
